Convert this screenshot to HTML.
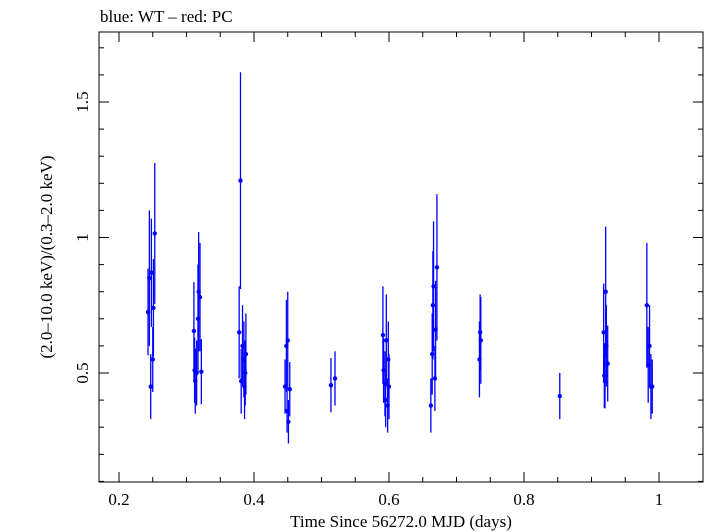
<!DOCTYPE html>
<html><head><meta charset="utf-8"><style>
body{margin:0;background:#fff;}
svg{display:block;font-family:"Liberation Serif",serif;}
</style></head><body>
<svg id="c" width="705" height="532">
<text x="100" y="22" font-size="17">blue: WT – red: PC</text>
<rect x="99" y="32" width="604" height="450" fill="none" stroke="#000" stroke-width="1"/>
<g id="ticks"></g>
<g id="marks"></g>
<text x="401" y="527" font-size="17" text-anchor="middle">Time Since 56272.0 MJD (days)</text>
<text transform="translate(52,257) rotate(-90)" font-size="17" text-anchor="middle">(2.0–10.0 keV)/(0.3–2.0 keV)</text>
</svg>
<script>
const times=[0.243,0.245,0.247,0.248,0.250,0.251,0.253,0.311,0.312,0.313,0.315,0.317,0.318,0.320,0.322,0.378,0.380,0.381,0.383,0.385,0.386,0.388,0.387,0.446,0.448,0.449,0.450,0.451,0.453,0.514,0.520,0.591,0.592,0.594,0.595,0.596,0.598,0.599,0.600,0.662,0.664,0.665,0.666,0.668,0.669,0.671,0.734,0.735,0.736,0.853,0.918,0.919,0.920,0.921,0.922,0.924,0.982,0.984,0.986,0.988,0.990];
const ratios=[0.725,0.85,0.45,0.87,0.55,0.74,1.015,0.655,0.51,0.47,0.5,0.7,0.8,0.78,0.505,0.65,1.21,0.47,0.6,0.55,0.45,0.57,0.5,0.45,0.6,0.36,0.62,0.32,0.44,0.455,0.48,0.64,0.51,0.46,0.4,0.62,0.38,0.55,0.45,0.38,0.57,0.75,0.82,0.48,0.66,0.89,0.55,0.65,0.62,0.415,0.65,0.49,0.47,0.80,0.6,0.535,0.75,0.53,0.6,0.45,0.45];
const errors=[0.16,0.25,0.12,0.2,0.12,0.18,0.26,0.18,0.12,0.12,0.12,0.2,0.22,0.2,0.12,0.17,0.4,0.12,0.15,0.14,0.12,0.15,0.12,0.1,0.17,0.08,0.18,0.08,0.1,0.1,0.1,0.18,0.12,0.12,0.1,0.17,0.1,0.14,0.12,0.1,0.15,0.2,0.24,0.12,0.18,0.27,0.14,0.14,0.16,0.085,0.18,0.12,0.1,0.24,0.15,0.14,0.23,0.14,0.15,0.12,0.1];
const xTicks=[0.2,0.4,0.6,0.8,1];
const xTickLabels=["0.2","0.4","0.6","0.8","1"];
const yTicks=[0.5,1,1.5];
const yTickLabels=["0.5","1","1.5"];
const X=t=>119+(t-0.2)*675;
const Y=v=>373-(v-0.5)*271;
const NS="http://www.w3.org/2000/svg";
function mk(tag,at,parent){const e=document.createElementNS(NS,tag);for(const k in at)e.setAttribute(k,at[k]);parent.appendChild(e);return e;}
const tg=document.getElementById('ticks');
for(let t=0.2;t<=1.05;t+=0.05){const x=X(t);const major=Math.abs(t*5-Math.round(t*5))<1e-6;const L=major?10:5;
 let l=mk('line',{x1:x,x2:x,y1:482,y2:482-L,stroke:'#000'},tg);
 
 
 l=mk('line',{x1:x,x2:x,y1:32,y2:32+L,stroke:'#000'},tg);
 
 }
for(let v=0.1;v<=1.75;v+=0.1){const y=Y(v);const major=Math.abs(v*2-Math.round(v*2))<1e-6;const L=major?10:5;
 let l=mk('line',{x1:99,x2:99+L,y1:y,y2:y,stroke:'#000'},tg);
 
 
 l=mk('line',{x1:703,x2:703-L,y1:y,y2:y,stroke:'#000'},tg);
 
 }
xTicks.forEach((t,i)=>{const e=mk('text',{x:X(t),y:505,'font-size':17,'text-anchor':'middle'},tg);e.textContent=xTickLabels[i];
 
 });
yTicks.forEach((v,i)=>{const e=mk('text',{transform:`translate(88,${Y(v)}) rotate(-90)`,'font-size':17,'text-anchor':'middle'},tg);e.textContent=yTickLabels[i];
 
 });
const mg=document.getElementById('marks');
times.forEach((t,i)=>{const x=X(t);
 const l=mk('line',{x1:x,x2:x,y1:Y(ratios[i]+errors[i]),y2:Y(ratios[i]-errors[i]),stroke:'#0000ff','stroke-width':1.3},mg);
 
 
 const c=mk('circle',{cx:x,cy:Y(ratios[i]),r:2.2,fill:'#0000ff'},mg);
 
 });
</script>
</body></html>
